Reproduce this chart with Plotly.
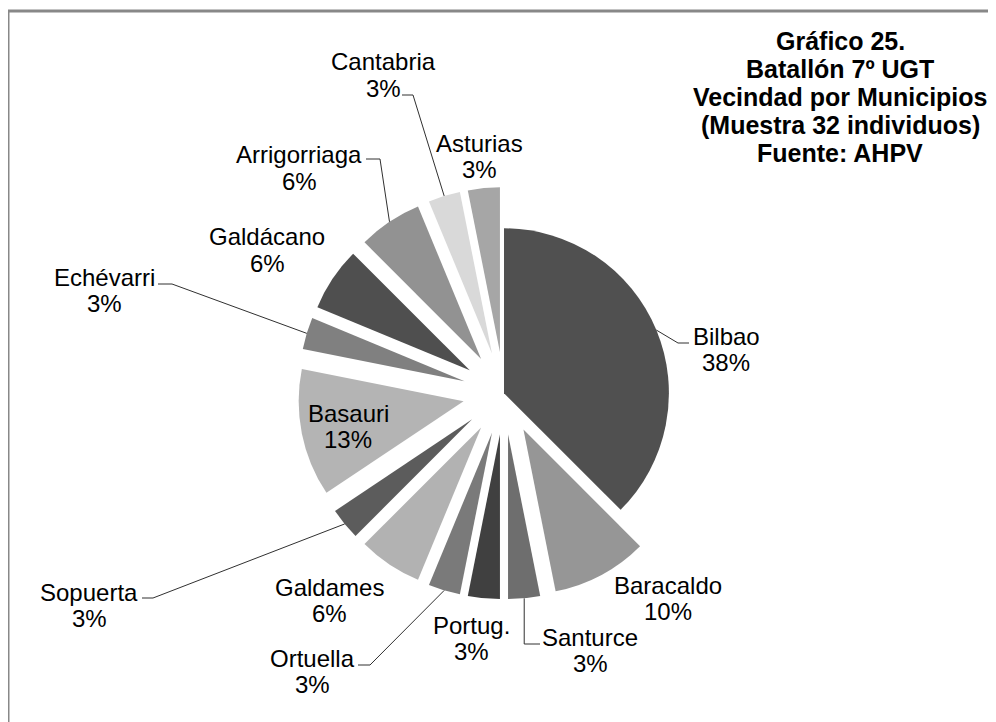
import math
import plotly.graph_objects as go

# ---- data ----
municipios = ["Bilbao", "Baracaldo", "Santurce", "Portug.", "Ortuella", "Galdames",
              "Sopuerta", "Basauri", "Echévarri", "Galdácano", "Arrigorriaga",
              "Cantabria", "Asturias"]
individuos = [12, 3, 1, 1, 1, 2, 1, 4, 1, 2, 2, 1, 1]
pct_labels = ["38%", "10%", "3%", "3%", "3%", "6%", "3%", "13%", "3%", "6%", "6%", "3%", "3%"]
title_lines = ["Gráfico 25.", "Batallón 7º UGT", "Vecindad por Municipios",
               "(Muestra 32 individuos)", "Fuente: AHPV"]

# ---- styles / layout ----
colors = ["#505050", "#969696", "#6e6e6e", "#404040", "#7a7a7a", "#b2b2b2",
          "#5c5c5c", "#b4b4b4", "#808080", "#4f4f4f", "#929292", "#d9d9d9", "#a6a6a6"]
pulls = [0.0] + [0.25] * 12
W, H = 996, 722
OFF = 8  # page body margin offset of the figure in the browser window
dom_x = [0.291, 0.705]
dom_y = [0.181, 0.752]
FONT = "Liberation Sans, Arial, sans-serif"
LBL = 24

# label positions (window pixel centres of name line) and leader-line elbows
label_pos = {
    "Bilbao": (726, 336), "Baracaldo": (668, 585), "Santurce": (590, 637),
    "Portug.": (471, 625), "Ortuella": (312, 658), "Galdames": (329, 587),
    "Sopuerta": (89, 592), "Basauri": (348, 413), "Echévarri": (104, 277),
    "Galdácano": (267, 237), "Arrigorriaga": (299, 155), "Cantabria": (383, 62),
    "Asturias": (479, 143),
}
leader_elbow = {
    "Bilbao": [(678, 343), (689, 343)],
    "Santurce": [None, (540, 644)],
    "Ortuella": [(370, 665), (358, 665)],
    "Sopuerta": [(153, 598), (142, 598)],
    "Echévarri": [(172, 284), (158, 284)],
    "Arrigorriaga": [(380, 159), (366, 159)],
    "Cantabria": [(413, 95), (402, 95)],
}


def px(x):
    return (x - OFF) / W


def py(y):
    return 1 - (y - OFF) / H


fig = go.Figure(go.Pie(
    labels=municipios, values=individuos, sort=False, direction="clockwise",
    rotation=0, pull=pulls, marker=dict(colors=colors, line=dict(width=0)),
    textinfo="none", hoverinfo="label+percent", showlegend=False,
    domain=dict(x=dom_x, y=dom_y),
))

# pie geometry as plotly computes it (converted to window pixels)
box = min(W * (dom_x[1] - dom_x[0]), H * (dom_y[1] - dom_y[0]))
r = box / (2 + 2 * max(pulls))
cx = W * (dom_x[0] + dom_x[1]) / 2 + OFF
cy = H * (2 - dom_y[0] - dom_y[1]) / 2 + OFF

total = sum(individuos)
cum = 0
shapes = []
annotations = []
for name, v, pct, p in zip(municipios, individuos, pct_labels, pulls):
    mid = (cum + v / 2) / total * 2 * math.pi
    cum += v
    ex = cx + math.sin(mid) * r * (1 + p)
    ey = cy - math.cos(mid) * r * (1 + p)
    lx, ly = label_pos[name]
    annotations.append(dict(x=px(lx), y=py(ly), xref="paper", yref="paper",
                            text=name, showarrow=False, xanchor="center", yanchor="middle",
                            font=dict(family=FONT, size=LBL, color="#000000")))
    annotations.append(dict(x=px(lx), y=py(ly + 26.5), xref="paper", yref="paper",
                            text=pct, showarrow=False, xanchor="center", yanchor="middle",
                            font=dict(family=FONT, size=LBL, color="#000000")))
    if name in leader_elbow:
        a, b = leader_elbow[name]
        if a is None:
            a = (ex, b[1])
        path = f"M {px(ex)},{py(ey)} L {px(a[0])},{py(a[1])} L {px(b[0])},{py(b[1])}"
        shapes.append(dict(type="path", xref="paper", yref="paper", path=path,
                           line=dict(color="#303030", width=1)))

# title (right, bold, centred lines)
for i, t in enumerate(title_lines):
    annotations.append(dict(x=px(840), y=py(41 + i * 28), xref="paper", yref="paper",
                            text=f"<b>{t}</b>", showarrow=False, xanchor="center",
                            yanchor="middle",
                            font=dict(family=FONT, size=25, color="#000000")))

# chart-area border (only left and top are visible in the picture)
shapes.append(dict(type="rect", xref="paper", yref="paper",
                   x0=px(8), x1=1.05, y0=-0.05, y1=py(11),
                   line=dict(color="#888888", width=3), fillcolor="rgba(0,0,0,0)"))

fig.update_layout(
    width=W, height=H, margin=dict(l=0, r=0, t=0, b=0),
    paper_bgcolor="#ffffff", plot_bgcolor="#ffffff",
    shapes=shapes, annotations=annotations,
)
fig.write_html("out.html")
